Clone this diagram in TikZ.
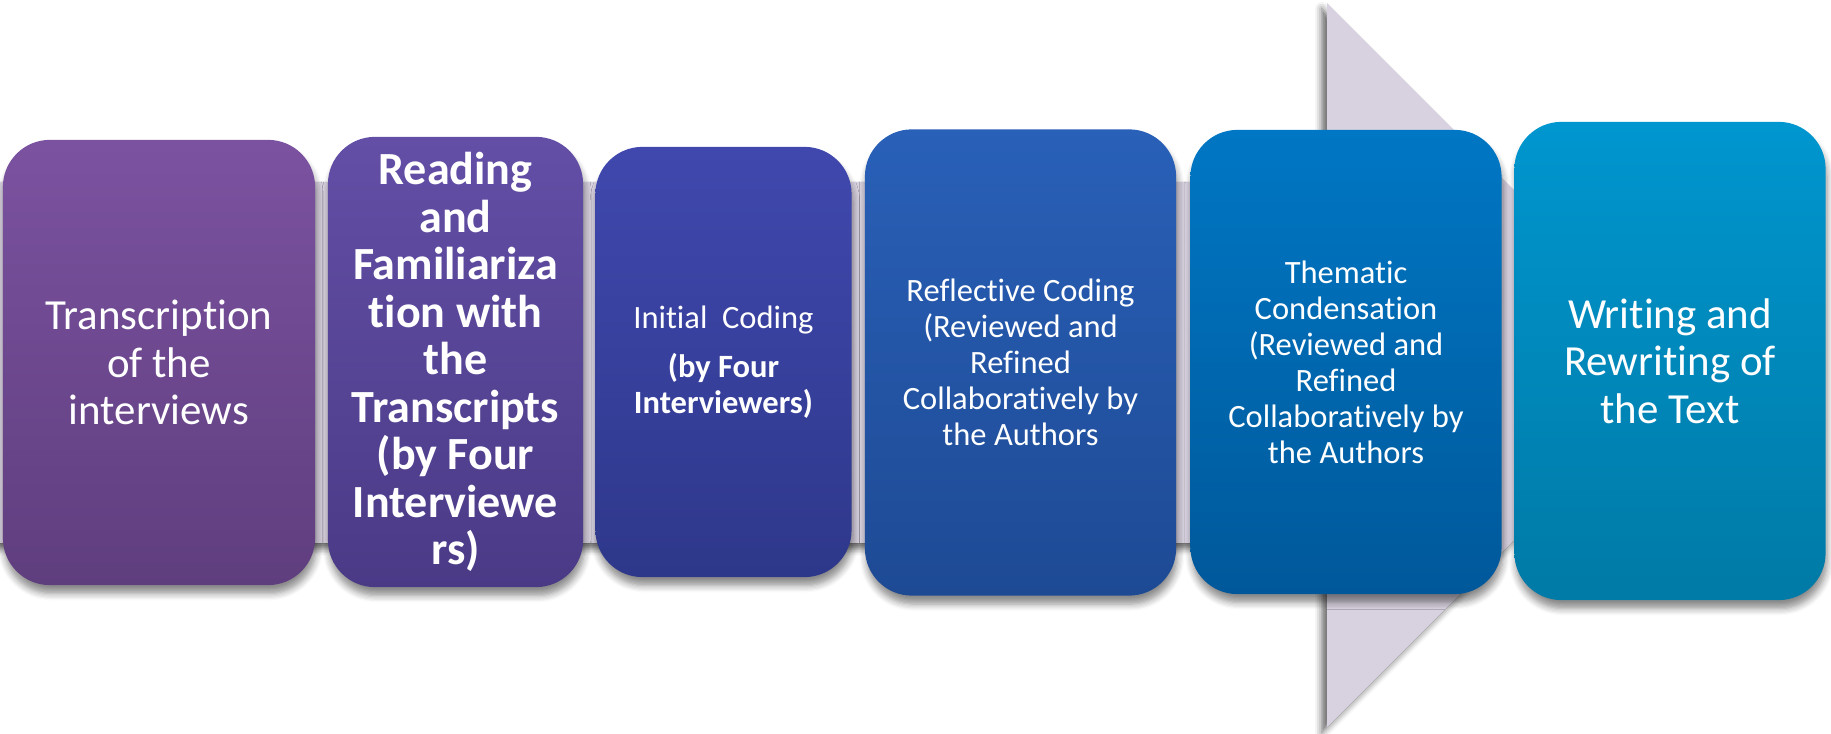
\documentclass[tikz,border=0pt]{standalone}
\usepackage{fontspec}
\setmainfont{Carlito}[Ligatures=NoCommon]
\usetikzlibrary{positioning,shadows.blur}
\definecolor{flowgray}{HTML}{D8D2E0}
\definecolor{purA}{HTML}{7B52A0}\definecolor{purB}{HTML}{5F3E7E}
\definecolor{vioA}{HTML}{634FA6}\definecolor{vioB}{HTML}{4A3A86}
\definecolor{indA}{HTML}{4048AE}\definecolor{indB}{HTML}{2E388A}
\definecolor{bluA}{HTML}{2960B8}\definecolor{bluB}{HTML}{1E4A94}
\definecolor{azuA}{HTML}{0077C4}\definecolor{azuB}{HTML}{00589A}
\definecolor{cyaA}{HTML}{0096CF}\definecolor{cyaB}{HTML}{007AA6}
\tikzset{stage/.style={rounded corners=0.47cm,align=center,text=white,inner sep=2pt,
    blur shadow={shadow xshift=0.4pt,shadow yshift=-2.4pt,shadow blur steps=6,shadow opacity=45}},
  bigtxt/.style={font=\fontsize{12.2}{13.5}\selectfont},
  boldtxt/.style={font=\fontsize{13.1}{13.5}\selectfont\bfseries},
  smalltxt/.style={font=\fontsize{9.25}{10.25}\selectfont}}

\begin{document}
\begin{tikzpicture}[x=0.01cm,y=-0.01cm]
\useasboundingbox (0,0) rectangle (1831,734);
% big arrow behind the steps
\fill[flowgray,blur shadow={shadow xshift=-1.5pt,shadow yshift=-1.6pt,shadow blur steps=4,shadow opacity=60}]
  (0,182) -- (1327,182) -- (1327,3) -- (1689,365) -- (1327,727) -- (1327,543) -- (0,543) -- cycle;
\node[stage,bigtxt,top color=purA,bottom color=purB,minimum width=3.12cm,minimum height=4.45cm] (T) at (159,362.5) {Transcription\\of the\\interviews};
\node[stage,boldtxt,top color=vioA,bottom color=vioB,minimum width=2.55cm,minimum height=4.5cm] (R) at (455.5,362) {Reading\\and\\Familiariza\\tion with\\the\\Transcripts\\(by Four\\Interviewe\\rs)};
\node[stage,smalltxt,top color=indA,bottom color=indB,minimum width=2.56cm,minimum height=4.3cm] (I) at (723.5,362) {Initial\ \ Coding\\[3.7pt]\textbf{(by Four}\\\textbf{Interviewers)}};
\node[stage,smalltxt,top color=bluA,bottom color=bluB,minimum width=3.11cm,minimum height=4.66cm] (F) at (1020.5,362.5) {Reflective Coding\\(Reviewed and\\Refined\\Collaboratively by\\the Authors};
\node[stage,smalltxt,top color=azuA,bottom color=azuB,minimum width=3.11cm,minimum height=4.64cm] (C) at (1346,362) {Thematic\\Condensation\\(Reviewed and\\Refined\\Collaboratively by\\the Authors};
\node[stage,bigtxt,top color=cyaA,bottom color=cyaB,minimum width=3.11cm,minimum height=4.78cm] (W) at (1670,361) {Writing and\\Rewriting of\\the Text};
\end{tikzpicture}
\end{document}
